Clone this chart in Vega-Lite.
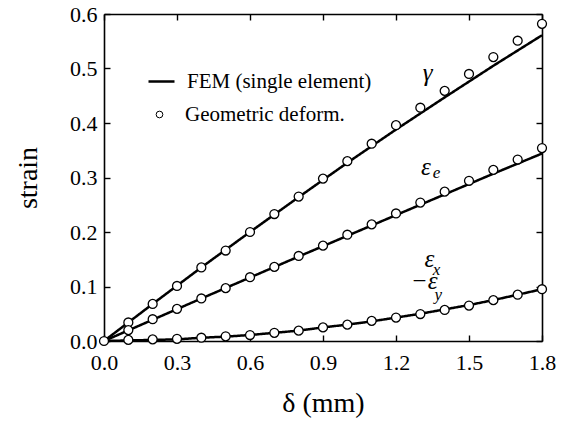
{
  "$schema": "https://vega.github.io/schema/vega-lite/v6.json",
  "width": 438,
  "height": 327,
  "autosize": {"type": "none"},
  "padding": {"left": 104, "top": 14, "right": 25, "bottom": 87},
  "background": "white",
  "config": {
    "view": {"stroke": null},
    "font": "Liberation Serif",
    "legend": {
      "labelFont": "Liberation Serif", "labelFontSize": 21, "labelColor": "black", "labelLimit": 400,
      "padding": 0, "titlePadding": 0
    },
    "axis": {
      "labelFont": "Liberation Serif",
      "labelFontSize": 22,
      "labelColor": "black",
      "titleFont": "Liberation Serif",
      "titleFontSize": 28,
      "titleFontWeight": "normal",
      "titleColor": "black",
      "domainColor": "black",
      "domainWidth": 1.6,
      "tickColor": "black",
      "tickWidth": 1.4,
      "tickSize": -6,
      "grid": false
    }
  },
  "datasets": {
    "fem": [
      {"kind": "FEM (single element)", "series": "gamma", "delta": 0.0, "v": 0.0},
      {"kind": "FEM (single element)", "series": "gamma", "delta": 0.2, "v": 0.068},
      {"kind": "FEM (single element)", "series": "gamma", "delta": 0.4, "v": 0.135},
      {"kind": "FEM (single element)", "series": "gamma", "delta": 0.6, "v": 0.200},
      {"kind": "FEM (single element)", "series": "gamma", "delta": 0.8, "v": 0.264},
      {"kind": "FEM (single element)", "series": "gamma", "delta": 1.0, "v": 0.327},
      {"kind": "FEM (single element)", "series": "gamma", "delta": 1.2, "v": 0.388},
      {"kind": "FEM (single element)", "series": "gamma", "delta": 1.4, "v": 0.447},
      {"kind": "FEM (single element)", "series": "gamma", "delta": 1.6, "v": 0.505},
      {"kind": "FEM (single element)", "series": "gamma", "delta": 1.8, "v": 0.561},
      {"kind": "FEM (single element)", "series": "eps_e", "delta": 0.0, "v": 0.0},
      {"kind": "FEM (single element)", "series": "eps_e", "delta": 0.2, "v": 0.039},
      {"kind": "FEM (single element)", "series": "eps_e", "delta": 0.4, "v": 0.078},
      {"kind": "FEM (single element)", "series": "eps_e", "delta": 0.6, "v": 0.1165},
      {"kind": "FEM (single element)", "series": "eps_e", "delta": 0.8, "v": 0.155},
      {"kind": "FEM (single element)", "series": "eps_e", "delta": 1.0, "v": 0.193},
      {"kind": "FEM (single element)", "series": "eps_e", "delta": 1.2, "v": 0.231},
      {"kind": "FEM (single element)", "series": "eps_e", "delta": 1.4, "v": 0.269},
      {"kind": "FEM (single element)", "series": "eps_e", "delta": 1.6, "v": 0.307},
      {"kind": "FEM (single element)", "series": "eps_e", "delta": 1.8, "v": 0.344},
      {"kind": "FEM (single element)", "series": "eps_x", "delta": 0.0, "v": 0.0},
      {"kind": "FEM (single element)", "series": "eps_x", "delta": 0.1, "v": 0.001},
      {"kind": "FEM (single element)", "series": "eps_x", "delta": 0.2, "v": 0.002},
      {"kind": "FEM (single element)", "series": "eps_x", "delta": 0.3, "v": 0.003},
      {"kind": "FEM (single element)", "series": "eps_x", "delta": 0.4, "v": 0.006},
      {"kind": "FEM (single element)", "series": "eps_x", "delta": 0.5, "v": 0.008},
      {"kind": "FEM (single element)", "series": "eps_x", "delta": 0.6, "v": 0.011},
      {"kind": "FEM (single element)", "series": "eps_x", "delta": 0.7, "v": 0.015},
      {"kind": "FEM (single element)", "series": "eps_x", "delta": 0.8, "v": 0.019},
      {"kind": "FEM (single element)", "series": "eps_x", "delta": 0.9, "v": 0.025},
      {"kind": "FEM (single element)", "series": "eps_x", "delta": 1.0, "v": 0.030},
      {"kind": "FEM (single element)", "series": "eps_x", "delta": 1.1, "v": 0.036},
      {"kind": "FEM (single element)", "series": "eps_x", "delta": 1.2, "v": 0.043},
      {"kind": "FEM (single element)", "series": "eps_x", "delta": 1.3, "v": 0.050},
      {"kind": "FEM (single element)", "series": "eps_x", "delta": 1.4, "v": 0.058},
      {"kind": "FEM (single element)", "series": "eps_x", "delta": 1.5, "v": 0.066},
      {"kind": "FEM (single element)", "series": "eps_x", "delta": 1.6, "v": 0.075},
      {"kind": "FEM (single element)", "series": "eps_x", "delta": 1.7, "v": 0.085},
      {"kind": "FEM (single element)", "series": "eps_x", "delta": 1.8, "v": 0.095}
    ],
    "geo": [
      {"kind": "Geometric deform.", "series": "gamma", "delta": 0.0, "v": 0.0},
      {"kind": "Geometric deform.", "series": "gamma", "delta": 0.1, "v": 0.034},
      {"kind": "Geometric deform.", "series": "gamma", "delta": 0.2, "v": 0.068},
      {"kind": "Geometric deform.", "series": "gamma", "delta": 0.3, "v": 0.101},
      {"kind": "Geometric deform.", "series": "gamma", "delta": 0.4, "v": 0.135},
      {"kind": "Geometric deform.", "series": "gamma", "delta": 0.5, "v": 0.166},
      {"kind": "Geometric deform.", "series": "gamma", "delta": 0.6, "v": 0.200},
      {"kind": "Geometric deform.", "series": "gamma", "delta": 0.7, "v": 0.233},
      {"kind": "Geometric deform.", "series": "gamma", "delta": 0.8, "v": 0.265},
      {"kind": "Geometric deform.", "series": "gamma", "delta": 0.9, "v": 0.298},
      {"kind": "Geometric deform.", "series": "gamma", "delta": 1.0, "v": 0.330},
      {"kind": "Geometric deform.", "series": "gamma", "delta": 1.1, "v": 0.362},
      {"kind": "Geometric deform.", "series": "gamma", "delta": 1.2, "v": 0.396},
      {"kind": "Geometric deform.", "series": "gamma", "delta": 1.3, "v": 0.428},
      {"kind": "Geometric deform.", "series": "gamma", "delta": 1.4, "v": 0.459},
      {"kind": "Geometric deform.", "series": "gamma", "delta": 1.5, "v": 0.490},
      {"kind": "Geometric deform.", "series": "gamma", "delta": 1.6, "v": 0.521},
      {"kind": "Geometric deform.", "series": "gamma", "delta": 1.7, "v": 0.551},
      {"kind": "Geometric deform.", "series": "gamma", "delta": 1.8, "v": 0.582},
      {"kind": "Geometric deform.", "series": "eps_e", "delta": 0.1, "v": 0.020},
      {"kind": "Geometric deform.", "series": "eps_e", "delta": 0.2, "v": 0.040},
      {"kind": "Geometric deform.", "series": "eps_e", "delta": 0.3, "v": 0.059},
      {"kind": "Geometric deform.", "series": "eps_e", "delta": 0.4, "v": 0.078},
      {"kind": "Geometric deform.", "series": "eps_e", "delta": 0.5, "v": 0.097},
      {"kind": "Geometric deform.", "series": "eps_e", "delta": 0.6, "v": 0.117},
      {"kind": "Geometric deform.", "series": "eps_e", "delta": 0.7, "v": 0.136},
      {"kind": "Geometric deform.", "series": "eps_e", "delta": 0.8, "v": 0.156},
      {"kind": "Geometric deform.", "series": "eps_e", "delta": 0.9, "v": 0.175},
      {"kind": "Geometric deform.", "series": "eps_e", "delta": 1.0, "v": 0.195},
      {"kind": "Geometric deform.", "series": "eps_e", "delta": 1.1, "v": 0.214},
      {"kind": "Geometric deform.", "series": "eps_e", "delta": 1.2, "v": 0.234},
      {"kind": "Geometric deform.", "series": "eps_e", "delta": 1.3, "v": 0.254},
      {"kind": "Geometric deform.", "series": "eps_e", "delta": 1.4, "v": 0.274},
      {"kind": "Geometric deform.", "series": "eps_e", "delta": 1.5, "v": 0.294},
      {"kind": "Geometric deform.", "series": "eps_e", "delta": 1.6, "v": 0.314},
      {"kind": "Geometric deform.", "series": "eps_e", "delta": 1.7, "v": 0.333},
      {"kind": "Geometric deform.", "series": "eps_e", "delta": 1.8, "v": 0.354},
      {"kind": "Geometric deform.", "series": "eps_x", "delta": 0.1, "v": 0.002},
      {"kind": "Geometric deform.", "series": "eps_x", "delta": 0.2, "v": 0.003},
      {"kind": "Geometric deform.", "series": "eps_x", "delta": 0.3, "v": 0.004},
      {"kind": "Geometric deform.", "series": "eps_x", "delta": 0.4, "v": 0.006},
      {"kind": "Geometric deform.", "series": "eps_x", "delta": 0.5, "v": 0.0086},
      {"kind": "Geometric deform.", "series": "eps_x", "delta": 0.6, "v": 0.011},
      {"kind": "Geometric deform.", "series": "eps_x", "delta": 0.7, "v": 0.015},
      {"kind": "Geometric deform.", "series": "eps_x", "delta": 0.8, "v": 0.019},
      {"kind": "Geometric deform.", "series": "eps_x", "delta": 0.9, "v": 0.025},
      {"kind": "Geometric deform.", "series": "eps_x", "delta": 1.0, "v": 0.030},
      {"kind": "Geometric deform.", "series": "eps_x", "delta": 1.1, "v": 0.037},
      {"kind": "Geometric deform.", "series": "eps_x", "delta": 1.2, "v": 0.043},
      {"kind": "Geometric deform.", "series": "eps_x", "delta": 1.3, "v": 0.0495},
      {"kind": "Geometric deform.", "series": "eps_x", "delta": 1.4, "v": 0.057},
      {"kind": "Geometric deform.", "series": "eps_x", "delta": 1.5, "v": 0.065},
      {"kind": "Geometric deform.", "series": "eps_x", "delta": 1.6, "v": 0.075},
      {"kind": "Geometric deform.", "series": "eps_x", "delta": 1.7, "v": 0.085},
      {"kind": "Geometric deform.", "series": "eps_x", "delta": 1.8, "v": 0.095}
    ],
    "labels": [
      {"t": "γ", "delta": 1.33, "v": 0.477},
      {"t": "ε", "delta": 1.323, "v": 0.3046},
      {"t": "ε", "delta": 1.337, "v": 0.1363},
      {"t": "−ε", "delta": 1.316, "v": 0.0954}
    ],
    "subs": [
      {"t": "e", "delta": 1.366, "v": 0.2985},
      {"t": "x", "delta": 1.367, "v": 0.121},
      {"t": "y", "delta": 1.374, "v": 0.075}
    ]
  },
  "layer": [
    {
      "data": {"name": "fem"},
      "mark": {"type": "line", "color": "black", "strokeWidth": 2.5},
      "encoding": {
        "x": {
          "field": "delta", "type": "quantitative",
          "scale": {"domain": [0, 1.8], "nice": false, "zero": false},
          "axis": {"orient": "bottom", "title": "δ  (mm)", "values": [0, 0.3, 0.6, 0.9, 1.2, 1.5, 1.8], "format": ".1f", "labelPadding": 17, "titlePadding": 16, "labelFlush": false, "labelOverlap": false}
        },
        "y": {
          "field": "v", "type": "quantitative",
          "scale": {"domain": [0, 0.6], "nice": false, "zero": false},
          "axis": {"orient": "left", "title": "strain", "values": [0, 0.1, 0.2, 0.3, 0.4, 0.5, 0.6], "format": ".1f", "labelPadding": 13, "titlePadding": 27, "labelFlush": false, "labelOverlap": false}
        },
        "detail": {"field": "series"},
        "strokeDash": {
          "field": "kind", "type": "nominal",
          "scale": {"range": [[1, 0]]},
          "legend": {
            "orient": "none", "legendX": 43, "legendY": 53, "title": null,
            "labelOffset": 11, "symbolSize": 676, "symbolType": "stroke", "symbolStrokeColor": "black", "symbolStrokeWidth": 2.5, "symbolOpacity": 1
          }
        }
      }
    },
    {
      "data": {"name": "geo"},
      "mark": {"type": "point", "filled": true, "stroke": "black", "strokeWidth": 1.3, "size": 80, "opacity": 1},
      "encoding": {
        "x": {
          "field": "delta", "type": "quantitative",
          "axis": {"orient": "top", "title": null, "labels": false, "values": [0, 0.3, 0.6, 0.9, 1.2, 1.5, 1.8]}
        },
        "y": {
          "field": "v", "type": "quantitative",
          "axis": {"orient": "right", "title": null, "labels": false, "values": [0, 0.1, 0.2, 0.3, 0.4, 0.5, 0.6]}
        },
        "fill": {
          "field": "kind", "type": "nominal",
          "scale": {"range": ["white"]},
          "legend": {
            "orient": "none", "legendX": 45, "legendY": 90, "title": null,
            "labelOffset": 15, "symbolSize": 45, "symbolType": "circle", "symbolStrokeColor": "black", "symbolStrokeWidth": 1, "symbolOpacity": 1
          }
        }
      }
    },
    {
      "data": {"name": "labels"},
      "mark": {"type": "text", "font": "Liberation Serif", "fontStyle": "italic", "fontSize": 25, "align": "center", "baseline": "alphabetic", "color": "black"},
      "encoding": {
        "x": {"field": "delta", "type": "quantitative", "axis": null},
        "y": {"field": "v", "type": "quantitative", "axis": null},
        "text": {"field": "t"}
      }
    },
    {
      "data": {"name": "subs"},
      "mark": {"type": "text", "font": "Liberation Serif", "fontStyle": "italic", "fontSize": 17, "align": "center", "baseline": "alphabetic", "color": "black"},
      "encoding": {
        "x": {"field": "delta", "type": "quantitative", "axis": null},
        "y": {"field": "v", "type": "quantitative", "axis": null},
        "text": {"field": "t"}
      }
    }
  ],
  "resolve": {"axis": {"x": "independent", "y": "independent"}}
}
